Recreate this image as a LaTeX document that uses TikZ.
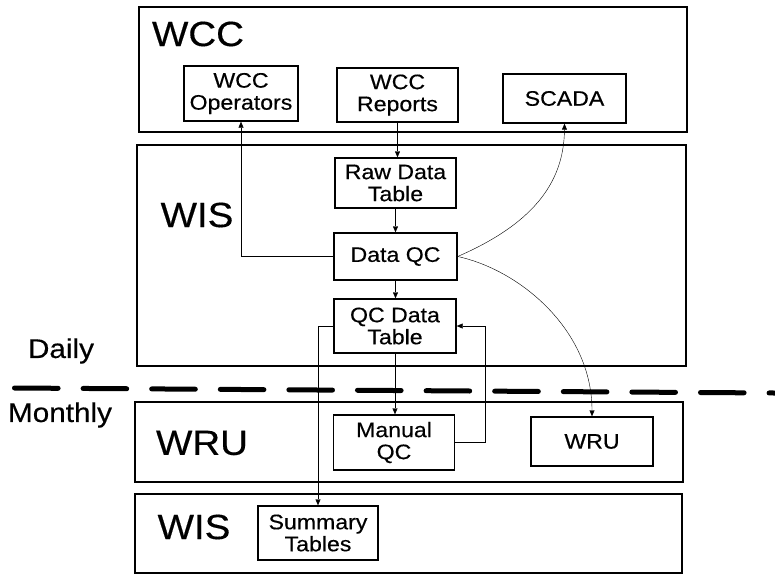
\documentclass[tikz,border=0pt]{standalone}
\usepackage{fontspec}
\setmainfont[FakeStretch=1.1, FakeBold=0.4]{Liberation Sans}
\usepackage{tikz}
\usetikzlibrary{calc}
\usetikzlibrary{arrows.meta}
\usetikzlibrary{backgrounds}

\begin{document}
\begin{tikzpicture}[x=1pt, y=-1pt, >={Triangle[length=6pt,width=5pt]}]
        \useasboundingbox (0,0) rectangle (775,574);
        \begin{scope}[every node/.style={draw, line width=1.6pt, inner sep=0}]
            \node[minimum width=548, minimum height=125] (wcc)  at (413,69.5)  {};
            \node[minimum width=549, minimum height=221] (wis)  at (411.5,255.5) {};
            \node[minimum width=548, minimum height=80]  (wru)  at (409,442)   {};
            \node[minimum width=547, minimum height=79]  (wis2) at (408.5,533.5) {};
        \end{scope}
        \begin{scope}[every node/.style={inner sep=0, font=\fontsize{35}{36}\selectfont}]
            \node (lwcc)  at (198,34)  {WCC};
            \node (lwis)  at (197,215) {WIS};
            \node (lwru)  at (202,443) {WRU};
            \node (lwis2) at (194,527) {WIS};
        \end{scope}
        \begin{scope}[every node/.style={inner sep=0, font=\fontsize{27}{28}\selectfont}]
            \node (daily)   at (61,351) {Daily};
            \node (monthly) at (60,415) {Monthly};
        \end{scope}
        \begin{scope}[every node/.style={draw, line width=1.4pt, inner sep=0, align=center,
                font=\fontsize{21}{22}\selectfont}]
            \node[minimum width=114, minimum height=55] (wccops) at (241,93.5)   {WCC\\Operators};
            \node[minimum width=121, minimum height=54] (wccrep) at (397.5,95)   {WCC\\Reports};
            \node[minimum width=123, minimum height=49] (scada)  at (564.5,98.5) {SCADA};
            \node[minimum width=121, minimum height=50] (raw)    at (395.5,183)  {Raw Data\\Table};
            \node[minimum width=123, minimum height=47] (dataqc) at (395.5,256.5) {Data QC};
            \node[minimum width=122, minimum height=54] (qctab)  at (395,326)    {QC Data\\Table};
            \node[minimum width=121, minimum height=55] (manqc)  at (394,442.5)  {Manual\\QC};
            \node[minimum width=122, minimum height=49] (wrubox) at (592,441.5)  {WRU};
            \node[minimum width=120, minimum height=54] (summ)   at (318,533)    {Summary\\Tables};
        \end{scope}
        \draw[line width=5pt, line cap=round, dash pattern=on 43.6pt off 25pt]
            (14.5,388) -- (775,393);
        \begin{scope}[on background layer, line width=1.2pt]
            \draw[->]
                (dataqc.west) -| (wccops.south);
            \draw[->]
                (wccrep.south) -- (wccrep.south |- raw.north);
            \draw[->]
                (raw.south) -- (raw.south |- dataqc.north);
            \draw[->]
                (dataqc.south) -- (dataqc.south |- qctab.north);
            \draw[->]
                (qctab.south) -- (qctab.south |- manqc.north);
            \draw[->]
                (dataqc.east) .. controls (530,225) and (564,185) .. (scada.south);
            \draw[->]
                (dataqc.east) .. controls (520,270) and (592,330) .. (wrubox.north);
            \draw[->]
                (qctab.west) -| (summ.north);
            \draw[->]
                (manqc.east) -- ++(30,0) |- (qctab.east);
        \end{scope}
    \end{tikzpicture}
\end{document}
